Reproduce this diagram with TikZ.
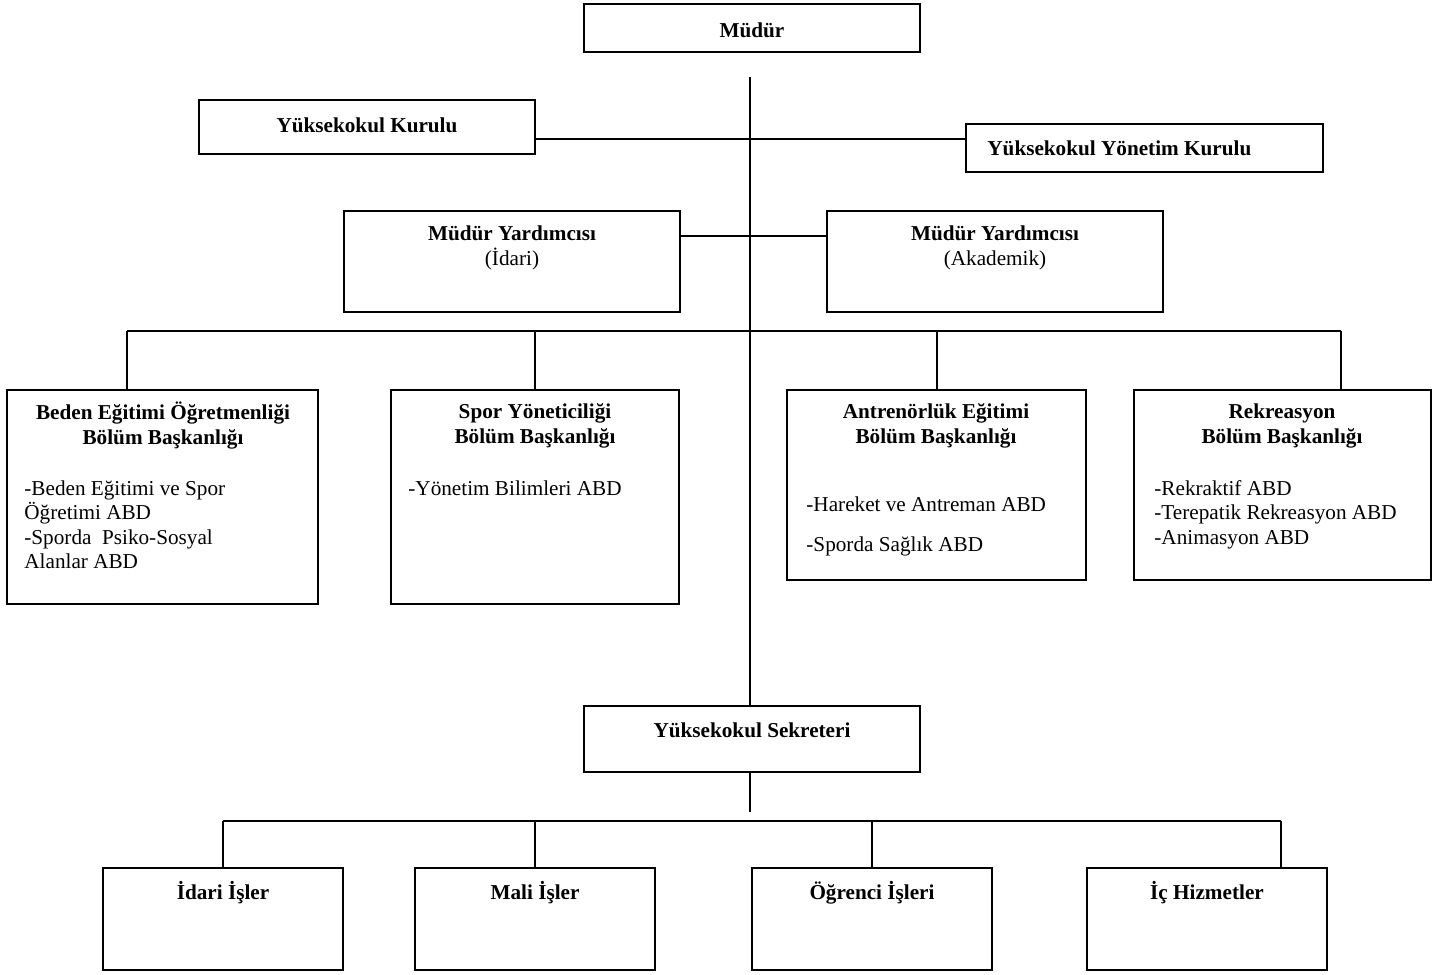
\documentclass[tikz,border=0pt]{standalone}
\usepackage{fontspec}
\setmainfont{Liberation Serif}
\usetikzlibrary{positioning, fit, calc}

\begin{document}
\begin{tikzpicture}[x=0.5pt, y=-0.5pt,
		unit/.style={draw, line width=1.1pt, inner sep=0pt},
		head/.style={font=\fontsize{10.6}{12.5}\selectfont\bfseries, align=center, inner sep=0pt},
		item/.style={font=\fontsize{10.6}{12.3}\selectfont, align=left, anchor=north west, inner sep=0pt},
		link/.style={line width=0.9pt}
	]
	\useasboundingbox (0,0) rectangle (1450,974);

	% --- Top level ---
	\node[unit, fit={(584,4) (920,52)}] (mudur) {};
	\node[head] (mudur_t) at (752,30) {Müdür};

	\node[unit, fit={(199,100) (535,154)}] (kurul) {};
	\node[head] (kurul_t) at (367,125) {Yüksekokul Kurulu};

	\node[unit, fit={(966,124) (1323,172)}] (ykurul) {};
	\node[head, anchor=west] (ykurul_t) at (987,148) {Yüksekokul Yönetim Kurulu};

	% --- Assistants ---
	\node[unit, fit={(344,211) (680,312)}] (my_idari) {};
	\node[head] (my_idari_t) at (512,248) {Müdür Yardımcısı\\\mdseries(İdari)};

	\node[unit, fit={(827,211) (1163,312)}] (my_akad) {};
	\node[head] (my_akad_t) at (995,248) {Müdür Yardımcısı\\\mdseries(Akademik)};

	% --- Departments ---
	\node[unit, fit={(7,390) (318,604)}] (bes) {};
	\node[head] (bes_t) at (163,426) {Beden Eğitimi Öğretmenliği\\Bölüm Başkanlığı};
	\node[item] (bes_i) at (24,480) {-Beden Eğitimi ve Spor\\Öğretimi ABD\\-Sporda\ \ Psiko-Sosyal\\Alanlar ABD};

	\node[unit, fit={(391,390) (679,604)}] (spy) {};
	\node[head] (spy_t) at (535,426) {Spor Yöneticiliği\\Bölüm Başkanlığı};
	\node[item] (spy_i) at (408,480) {-Yönetim Bilimleri ABD};

	\node[unit, fit={(787,390) (1086,580)}] (ant) {};
	\node[head] (ant_t) at (936,426) {Antrenörlük Eğitimi\\Bölüm Başkanlığı};
	\node[item] (ant_i) at (806,496) {-Hareket ve Antreman ABD\\[8pt]-Sporda Sağlık ABD};

	\node[unit, fit={(1134,390) (1431,580)}] (rek) {};
	\node[head] (rek_t) at (1282,426) {Rekreasyon\\Bölüm Başkanlığı};
	\node[item] (rek_i) at (1154,480) {-Rekraktif ABD\\-Terepatik Rekreasyon ABD\\-Animasyon ABD};

	% --- Secretary and units ---
	\node[unit, fit={(584,706) (920,772)}] (sek) {};
	\node[head] (sek_t) at (752,730) {Yüksekokul Sekreteri};

	\node[unit, fit={(103,868) (343,970)}] (idari) {};
	\node[head] (idari_t) at (223,893) {İdari İşler};

	\node[unit, fit={(415,868) (655,970)}] (mali) {};
	\node[head] (mali_t) at (535,893) {Mali İşler};

	\node[unit, fit={(752,868) (992,970)}] (ogr) {};
	\node[head] (ogr_t) at (872,893) {Öğrenci İşleri};

	\node[unit, fit={(1087,868) (1327,970)}] (ich) {};
	\node[head] (ich_t) at (1207,893) {İç Hizmetler};

	% --- Helper coordinates ---
	\coordinate (spine) at (750,77);
	\coordinate (kline) at (535,139);
	\coordinate (yline) at (680,236);
	\coordinate (bus) at (750,331);
	\coordinate (sek_end) at (750,812);
	\coordinate (bus2) at (750,821);

	% --- Connections ---
	\draw[link] (spine) -- (spine |- sek.north);
	\draw[link] (kline) -- (kline -| ykurul.west);
	\draw[link] (yline) -- (yline -| my_akad.west);

	\draw[link] (bus -| 127,0) -- (bus -| 1341,0);
	\draw[link] (bus -| 127,0) -- (127,0 |- bes.north);
	\draw[link] (bus -| spy.north) -- (spy.north);
	\draw[link] (bus -| 937,0) -- (937,0 |- ant.north);
	\draw[link] (bus -| 1341,0) -- (1341,0 |- rek.north);

	\draw[link] (sek.south -| sek_end) -- (sek_end);
	\draw[link] (bus2 -| idari.north) -- (bus2 -| 1281,0);
	\draw[link] (bus2 -| idari.north) -- (idari.north);
	\draw[link] (bus2 -| mali.north) -- (mali.north);
	\draw[link] (bus2 -| ogr.north) -- (ogr.north);
	\draw[link] (bus2 -| 1281,0) -- (1281,0 |- ich.north);

\end{tikzpicture}
\end{document}
